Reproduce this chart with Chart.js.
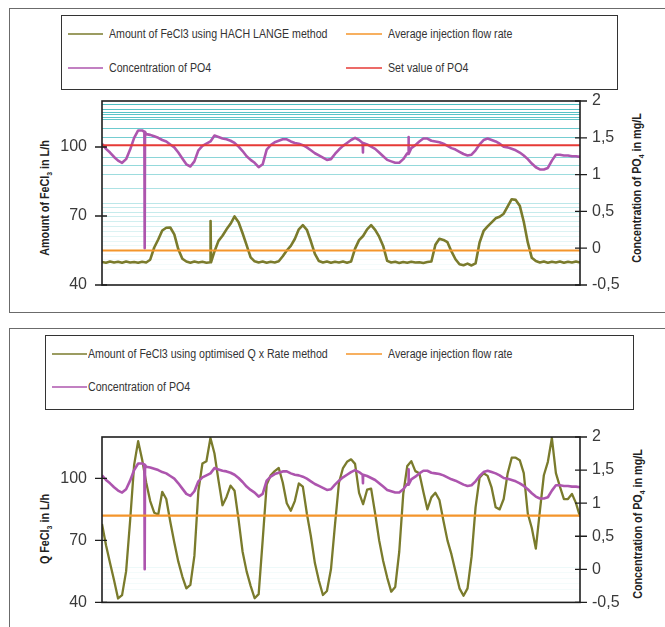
<!DOCTYPE html>
<html>
<head>
<meta charset="utf-8">
<title>FeCl3 dosing comparison</title>
<script src="https://cdn.jsdelivr.net/npm/chart.js@4.4.1/dist/chart.umd.min.js"></script>
<style>
  body { margin: 0; width: 665px; height: 627px; overflow: hidden; background: #fff; position: relative;
         font-family: "Liberation Sans", Arial, sans-serif; }
  .panel { position: absolute; left: 9px; width: 700px; border: 1.5px solid #6b6b6b; box-sizing: border-box; }
  .legend { position: absolute; border: 1.5px solid #333; box-sizing: border-box; }
  .sample { position: absolute; height: 2px; opacity: .75; }
  .lbl { position: absolute; font-size: 12.5px; color: #333; white-space: nowrap; line-height: 14px;
         transform: scaleX(.85); transform-origin: 0 50%; }
  .ytitle { position: absolute; width: 0; height: 0; }
  .ytitle span { position: absolute; left: 0; top: 0; transform: translate(-50%, -50%) rotate(-90deg) scaleX(.86);
                 font-weight: bold; font-size: 12.5px; color: #222; white-space: nowrap; }
  .ytitle sub { font-size: 8px; }
  canvas { position: absolute; left: 0; }
</style>
</head>
<body>
<div class="panel" style="top:8px;height:305px"></div>
<div class="panel" style="top:328px;height:400px"></div>
<div class="legend" style="left:61px;top:15px;width:557px;height:75px"></div>
<div class="legend" style="left:45px;top:335px;width:589px;height:75px"></div>
<div id="legends"></div>

<div class="ytitle" style="left:46px;top:198px"><span>Amount of FeCl<sub>3</sub> in L/h</span></div>
<div class="ytitle" style="left:638px;top:188px"><span>Concentration of PO<sub>4</sub> in mg/L</span></div>
<div class="ytitle" style="left:46px;top:529px"><span>Q FeCl<sub>3</sub> in L/h</span></div>
<div class="ytitle" style="left:639px;top:524px"><span>Concentration of PO<sub>4</sub> in mg/L</span></div>

<canvas id="chartHach" width="665" height="320" style="top:0"></canvas>
<canvas id="chartQrate" width="665" height="307" style="top:320px"></canvas>

<script>
// time steps (no labels on the x axis)
const steps = Array.from({ length: 120 }, (_, i) => i);

// axis ticks
const leftTicks = [40, 70, 100];
const rightTicks = [-0.5, 0, 0.5, 1, 1.5, 2];

// PO4 concentration in mg/L (same record in both panels)
const po4Conc = [
  1.42, 1.35, 1.30, 1.24, 1.19, 1.16, 1.21, 1.34, 1.50, 1.60,
  1.60, 1.55, 1.54, 1.52, 1.50, 1.47, 1.45, 1.41, 1.37, 1.30,
  1.22, 1.14, 1.11, 1.18, 1.33, 1.39, 1.42, 1.45, 1.53, 1.51,
  1.49, 1.48, 1.46, 1.43, 1.38, 1.32, 1.25, 1.20, 1.16, 1.10,
  1.14, 1.34, 1.40, 1.44, 1.46, 1.48, 1.48, 1.45, 1.43, 1.42,
  1.40, 1.37, 1.33, 1.29, 1.26, 1.23, 1.20, 1.21, 1.28, 1.34,
  1.39, 1.43, 1.47, 1.50, 1.47, 1.43, 1.41, 1.38, 1.35, 1.30,
  1.25, 1.20, 1.18, 1.16, 1.16, 1.21, 1.29, 1.36, 1.40, 1.45,
  1.49, 1.49, 1.46, 1.45, 1.44, 1.42, 1.39, 1.36, 1.34, 1.31,
  1.28, 1.26, 1.27, 1.33, 1.41, 1.47, 1.49, 1.47, 1.45, 1.42,
  1.38, 1.37, 1.35, 1.33, 1.30, 1.26, 1.21, 1.15, 1.10, 1.07,
  1.07, 1.09, 1.19, 1.27, 1.27, 1.26, 1.26, 1.25, 1.25, 1.24
];
// [time, level beside spike, spike tip]
const po4Spikes = [[10.63, 1.58, 0.0], [64.97, 1.43, 1.30], [76.3, 1.28, 1.51]];
const po4SetValue = 1.4;

// FeCl3 in L/h, HACH LANGE method
const feHach = [
  50.0, 49.7, 50.2, 49.8, 50.1, 49.7, 50.2, 49.8, 50.0, 49.7,
  50.1, 49.8, 51.0, 56.3, 59.8, 63.7, 64.9, 65.0, 62.0, 55.5,
  51.4, 50.2, 49.7, 50.2, 49.8, 50.1, 49.7, 50.0, 54.6, 59.2,
  61.4, 64.2, 66.6, 69.8, 67.3, 62.5, 57.3, 52.0, 50.3, 49.8,
  50.2, 49.7, 50.1, 49.8, 50.3, 52.5, 55.0, 57.0, 60.0, 64.2,
  66.0, 64.0, 59.0, 53.5, 50.4, 49.8, 50.2, 49.7, 50.1, 49.8,
  50.2, 49.7, 50.2, 55.8, 59.5, 61.3, 64.2, 66.0, 64.0, 61.0,
  57.0, 50.5, 49.8, 50.1, 49.6, 50.0, 49.7, 50.1, 49.8, 49.9,
  49.6, 50.0, 50.2, 57.5, 60.1, 59.6, 58.6, 54.6, 51.2, 49.0,
  48.6, 49.3, 48.5, 49.4, 58.5, 63.5, 65.5, 67.2, 69.0, 69.7,
  71.0, 74.2, 77.3, 77.0, 74.5, 67.5, 58.5, 51.8, 50.4, 49.8,
  50.2, 49.7, 50.1, 49.8, 50.2, 49.7, 50.1, 49.8, 50.2, 49.8
];
const feHachSpikes = [[27.06, 49.9, 67.8]];
const avgFlowHach = 55;

// FeCl3 in L/h, optimised Q x Rate method
const feQrate = [
  77.9, 67.6, 59.0, 50.7, 41.9, 43.5, 55.0, 79.5, 106.5, 118.0,
  109.0, 98.0, 89.0, 83.4, 82.5, 93.5, 90.0, 79.0, 69.0, 59.7,
  52.5, 46.8, 48.5, 62.5, 94.0, 107.2, 108.3, 119.5, 112.0, 99.0,
  87.0, 91.0, 96.5, 94.0, 80.0, 64.5, 55.0, 48.0, 42.0, 44.0,
  70.0, 97.0, 101.5, 103.5, 105.0, 98.0, 88.0, 84.3, 89.0, 97.5,
  96.0, 83.0, 72.0, 59.0, 50.5, 43.6, 45.5, 56.0, 77.5, 98.0,
  105.0, 108.0, 109.2, 107.0, 93.0, 87.5, 94.5, 95.0, 83.0, 70.0,
  60.0, 52.0, 45.2, 47.5, 64.5, 92.5, 106.0, 108.3, 103.5, 102.5,
  93.5, 85.0, 90.8, 93.0, 89.5, 79.5, 70.0, 63.2, 55.0, 46.8,
  43.2, 46.8, 62.0, 86.0, 100.3, 102.5, 101.2, 95.5, 86.0, 85.0,
  90.0, 102.5, 110.0, 110.0, 108.8, 102.5, 83.0, 76.0, 66.0, 84.0,
  101.5, 108.0, 119.5, 102.5, 96.0, 90.0, 90.0, 92.5, 88.0, 81.5
];
const avgFlowQrate = 82;

// background band lines, PO4 scale
const bandsHach = [1.95, 1.89, 1.85, 1.82, 1.78, 1.75, 1.63, 1.50, 1.23, 1.12, 1.00, 0.81,
  0.61, 0.55, 0.49, 0.43, 0.36, 0.30, 0.23, 0.16, 0.09, 0.03, -0.09, -0.15, -0.22, -0.29];
const bandsQrate = [0.03, -0.05, -0.14, -0.22, -0.31];

const namesHach = ["Amount of FeCl3 using HACH LANGE method", "Average injection flow rate",
  "Concentration of PO4", "Set value of PO4"];
const namesQrate = ["Amount of FeCl3 using optimised Q x Rate method", "Average injection flow rate",
  "Concentration of PO4"];

const OLIVE = "#7a7b2c", ORANGE = "#f4952b", PURPLE = "#ad55ae", RED = "#e63a36";

function toPoints(values, spikes) {
  const pts = values.map((v, i) => ({ x: steps[i], y: v }));
  (spikes || []).forEach(([t, base, tip]) => {
    pts.push({ x: t - 0.08, y: base }, { x: t, y: tip }, { x: t + 0.08, y: base });
  });
  return pts.sort((a, b) => a.x - b.x);
}
function flat(v) {
  return [{ x: steps[0], y: v }, { x: steps[steps.length - 1], y: v }];
}
function bandColor(v) {
  const a = Math.max(0.06, Math.min(0.9, 0.08 + 0.42 * v));
  return "rgba(60,185,190," + a.toFixed(2) + ")";
}

const framePlugin = {
  id: "frame",
  afterDatasetsDraw(chart) {
    const { ctx, chartArea: a, scales } = chart;
    ctx.save();
    ctx.strokeStyle = "#1e1e1e";
    ctx.lineWidth = 1.6;
    ctx.strokeRect(a.left, a.top, a.right - a.left, a.bottom - a.top);
    ctx.lineWidth = 1.3;
    ctx.beginPath();
    leftTicks.forEach(v => {
      const y = scales.yL.getPixelForValue(v);
      ctx.moveTo(a.left - 7, y); ctx.lineTo(a.left + 5, y);
    });
    rightTicks.forEach(v => {
      const y = scales.yR.getPixelForValue(v);
      ctx.moveTo(a.right - 5, y); ctx.lineTo(a.right + 7, y);
    });
    ctx.stroke();
    ctx.restore();
  }
};

const tickFont = { family: "'Liberation Sans', Arial, sans-serif", size: 16 };

function makeChart(id, padTop, padBottom, datasets, bands) {
  return new Chart(document.getElementById(id), {
    type: "line",
    data: { datasets },
    options: {
      responsive: false,
      animation: false,
      events: [],
      layout: { padding: { left: 0, right: 0, top: padTop, bottom: padBottom } },
      elements: { point: { radius: 0 }, line: { tension: 0, borderJoinStyle: "round" } },
      plugins: { legend: { display: false }, tooltip: { enabled: false } },
      scales: {
        x: { type: "linear", min: steps[0], max: steps[steps.length - 1], display: false },
        yL: {
          position: "left", min: 40, max: 120,
          afterBuildTicks: s => { s.ticks = leftTicks.map(v => ({ value: v })); },
          afterFit: s => { s.width = 102; },
          grid: { display: false, drawTicks: false },
          border: { display: false },
          ticks: { padding: 15, color: "#3a3a3a", font: tickFont }
        },
        yR: {
          position: "right", min: -0.5, max: 2,
          afterBuildTicks: s => { s.ticks = rightTicks.map(v => ({ value: v })); },
          afterFit: s => { s.width = 85; },
          grid: { display: false, drawTicks: false },
          border: { display: false },
          ticks: { padding: 12, color: "#3a3a3a", font: tickFont,
                   callback: v => String(v).replace(".", ",") }
        },
        yBand: {
          position: "right", min: -0.5, max: 2,
          afterBuildTicks: s => { s.ticks = bands.map(v => ({ value: v })); },
          afterFit: s => { s.width = 0; },
          grid: { drawTicks: false, lineWidth: 1, color: c => bandColor(c.tick.value) },
          border: { display: false },
          ticks: { display: false }
        }
      }
    },
    plugins: [framePlugin]
  });
}

makeChart("chartHach", 101, 35, [
  { label: namesHach[0], data: toPoints(feHach, feHachSpikes), yAxisID: "yL", borderColor: OLIVE, borderWidth: 2.6, order: 3 },
  { label: namesHach[1], data: flat(avgFlowHach), yAxisID: "yL", borderColor: ORANGE, borderWidth: 2.2, order: 1 },
  { label: namesHach[2], data: toPoints(po4Conc, po4Spikes), yAxisID: "yR", borderColor: PURPLE, borderWidth: 2.6, order: 2 },
  { label: namesHach[3], data: flat(po4SetValue), yAxisID: "yR", borderColor: RED, borderWidth: 2, order: 0 }
], bandsHach);

makeChart("chartQrate", 117, 23, [
  { label: namesQrate[0], data: toPoints(feQrate), yAxisID: "yL", borderColor: OLIVE, borderWidth: 2.3, order: 3 },
  { label: namesQrate[1], data: flat(avgFlowQrate), yAxisID: "yL", borderColor: ORANGE, borderWidth: 2.2, order: 1 },
  { label: namesQrate[2], data: toPoints(po4Conc, po4Spikes), yAxisID: "yR", borderColor: PURPLE, borderWidth: 2.6, order: 2 }
], bandsQrate);

// HTML legends: [name, colour, sample x, sample width, text x, centre y]
const legendRows = [
  [namesHach[0], OLIVE, 68, 35, 109, 34],
  [namesHach[1], ORANGE, 346, 36, 388, 34],
  [namesHach[2], PURPLE, 68, 35, 109, 68],
  [namesHach[3], RED, 346, 36, 388, 68],
  [namesQrate[0], OLIVE, 52, 35, 88, 354],
  [namesQrate[1], ORANGE, 346, 36, 388, 354],
  [namesQrate[2], PURPLE, 52, 35, 88, 387]
];
const holder = document.getElementById("legends");
legendRows.forEach(([name, col, sx, sw, tx, cy]) => {
  const s = document.createElement("div");
  s.className = "sample";
  s.style.cssText = `left:${sx}px;top:${cy - 1}px;width:${sw}px;background:${col}`;
  const t = document.createElement("div");
  t.className = "lbl";
  t.style.cssText = `left:${tx}px;top:${cy - 7}px`;
  t.textContent = name;
  holder.appendChild(s);
  holder.appendChild(t);
});
</script>
</body>
</html>
